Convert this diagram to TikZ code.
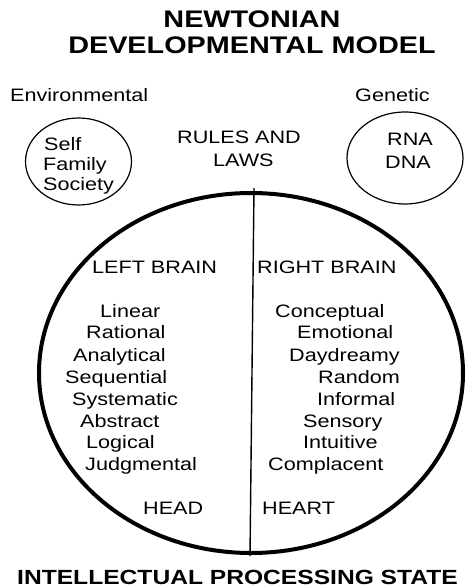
\documentclass[tikz,border=0pt]{standalone}
\usepackage{fontspec}
\setmainfont[FakeStretch=1.2]{Liberation Sans}
\tikzset{
  lbl/.style={anchor=base west,inner sep=0pt,font=\fontsize{18}{20}\selectfont},
  ttl/.style={anchor=base,inner sep=0pt,font=\fontsize{24}{26}\selectfont\bfseries}
}

\begin{document}
\begin{tikzpicture}[x=1pt,y=-1pt]
\useasboundingbox (0,0) rectangle (467,588);
% ---------- title ----------
\node[ttl] (title1) at (252,28) {NEWTONIAN};
\node[ttl] (title2) at (252,54) {DEVELOPMENTAL MODEL};
% ---------- influences ----------
\node[lbl] (env) at (10,102) {Environmental};
\node[lbl] (gen) at (355,102) {Genetic};
\draw[line width=1.2pt] (78.5,161.5) ellipse (53 and 43.5);
\draw[line width=1.2pt] (405,158) ellipse (58 and 46);
\node[lbl] (self) at (44,151) {Self};
\node[lbl] (family) at (43,170) {Family};
\node[lbl] (society) at (43,190) {Society};
\node[lbl] (rna) at (387,146) {RNA};
\node[lbl] (dna) at (385,168) {DNA};
\node[lbl] (rules) at (177,144) {RULES AND};
\node[lbl] (laws) at (213,167) {LAWS};
% ---------- brain ----------
\draw[line width=4pt] (251,373) ellipse (212 and 180);
\draw[line width=1.4pt] (254,188) -- (250,556);
\node[lbl] (left) at (92,273) {LEFT BRAIN};
\node[lbl] (right) at (257,273) {RIGHT BRAIN};
% left column
\foreach \x/\y/\t [count=\i] in {100/317/Linear,86/338/Rational,73/361/Analytical,
    65/383/Sequential,72/405/Systematic,80/427/Abstract,86/448/Logical,85/470/Judgmental}
  \node[lbl] (l\i) at (\x,\y) {\t};
% right column
\foreach \x/\y/\t [count=\i] in {275/317/Conceptual,297/338/Emotional,289/361/Daydreamy,
    318/383/Random,317/405/Informal,303/427/Sensory,303/448/Intuitive,268/470/Complacent}
  \node[lbl] (r\i) at (\x,\y) {\t};
\node[lbl] (head) at (143,514) {HEAD};
\node[lbl] (heart) at (262,514) {HEART};
% ---------- state ----------
\node[ttl,anchor=base west,font=\fontsize{20.5}{22}\selectfont\bfseries] (state) at (17,584.5) {INTELLECTUAL PROCESSING STATE};
\end{tikzpicture}
\end{document}
